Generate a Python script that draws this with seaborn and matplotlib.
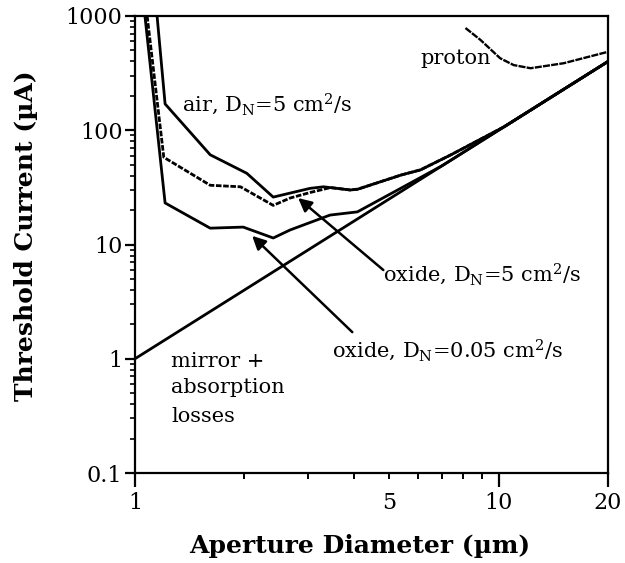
import numpy as np
import pandas as pd
import matplotlib
matplotlib.use("Agg")
import matplotlib.pyplot as plt
from matplotlib.ticker import NullFormatter, LogLocator
import seaborn as sns

# ---- data ----
mirror_x = [1, 2, 3, 5, 10, 20]
mirror_y = [1, 4, 9, 25, 100, 400]

air_x = [1.15, 1.21, 1.61, 2.03, 2.40, 3.03, 3.30, 3.91, 4.1, 5.4, 6.1, 7.4, 10.4, 20]
air_y = [1000, 170, 61, 42, 26, 31, 32, 30, 30.5, 40.6, 45, 61, 108, 400]

oxide5_x = [1.08, 1.20, 1.61, 1.95, 2.40, 2.67, 3.03, 3.45, 3.91, 4.1, 5.4, 6.1, 7.4, 10.4, 20]
oxide5_y = [1000, 58, 33, 32, 22, 25.5, 28.5, 31.5, 30, 30.5, 40.6, 45, 61, 108, 400]

oxide005_x = [1.065, 1.21, 1.61, 1.985, 2.40, 2.67, 3.44, 4.09, 5.72, 7, 10, 20]
oxide005_y = [1000, 23.1, 13.9, 14.2, 11.4, 13.4, 18.1, 19.3, 34.5, 49, 100, 400]

proton_x = [8.11, 8.92, 10.1, 11.0, 12.25, 15.1, 20]
proton_y = [785, 617, 427, 372, 349, 386, 486]

x_major = [1, 10, 20]
x_major_labels = ["1", "10", "20"]
x_minor = [2, 3, 4, 5, 6, 7, 8, 9]
x_minor_labels = ["", "", "", "5", "", "", "", ""]
y_ticks = [0.1, 1, 10, 100, 1000]
y_tick_labels = ["0.1", "1", "10", "100", "1000"]

sns.set_style("ticks")
plt.rcParams["font.family"] = ["DejaVu Serif"]
plt.rcParams["mathtext.fontset"] = "dejavuserif"
plt.rcParams["text.color"] = "black"
plt.rcParams["axes.labelcolor"] = "black"
plt.rcParams["xtick.color"] = "black"
plt.rcParams["ytick.color"] = "black"

fig = plt.figure(figsize=(6.25, 5.63), dpi=100)
ax = fig.add_axes([135 / 625, 1 - 473 / 563, (608 - 135) / 625, (473 - 16) / 563])

kw = dict(ax=ax, sort=False, estimator=None, color="black")
sns.lineplot(x=mirror_x, y=mirror_y, lw=2.0, **kw)
sns.lineplot(x=oxide005_x, y=oxide005_y, lw=2.0, **kw)
sns.lineplot(x=air_x, y=air_y, lw=2.0, **kw)
sns.lineplot(x=oxide5_x, y=oxide5_y, lw=2.0, linestyle=(0, (2.0, 0.6)), **kw)
sns.lineplot(x=proton_x, y=proton_y, lw=1.7, linestyle=(0, (3.0, 0.5)), **kw)

ax.set_xscale("log")
ax.set_yscale("log")
ax.set_xlim(1, 20)
ax.set_ylim(0.1, 1000)

ax.set_xticks(x_major)
ax.set_xticklabels(x_major_labels)
ax.set_xticks(x_minor, minor=True)
ax.set_xticklabels(x_minor_labels, minor=True)
ax.set_yticks(y_ticks)
ax.set_yticklabels(y_tick_labels)
ax.yaxis.set_minor_locator(LogLocator(base=10, subs=np.arange(2, 10)))
ax.yaxis.set_minor_formatter(NullFormatter())

ax.tick_params(axis="x", which="major", direction="out", length=10, width=1.6, pad=4, labelsize=16)
ax.tick_params(axis="x", which="minor", direction="out", length=4, width=1.4, pad=10, labelsize=16)
ax.tick_params(axis="y", which="major", direction="out", length=7, width=1.6, pad=2, labelsize=16)
ax.tick_params(axis="y", which="minor", direction="out", length=3.5, width=1.2)

for s in ax.spines.values():
    s.set_linewidth(1.6)
    s.set_color("black")

ax.set_xlabel("Aperture Diameter (µm)", fontsize=18, fontweight="bold")
ax.set_ylabel("Threshold Current (µA)", fontsize=18, fontweight="bold")
ax.xaxis.set_label_coords(0.476, -0.133)
ax.yaxis.set_label_coords(-0.205, 0.519)

tfs = 15
ax.text(6.10, 380, "proton", fontsize=tfs, va="baseline", ha="left")
ax.text(1.348, 147, r"air, D$_{\rm N}$=5 cm$^{2}$/s", fontsize=tfs, va="baseline", ha="left")
ax.text(4.82, 4.79, r"oxide, D$_{\rm N}$=5 cm$^{2}$/s", fontsize=tfs, va="baseline", ha="left")
ax.text(3.49, 1.036, r"oxide, D$_{\rm N}$=0.05 cm$^{2}$/s", fontsize=tfs, va="baseline", ha="left")
ax.text(1.256, 0.847, "mirror +", fontsize=tfs, va="baseline", ha="left")
ax.text(1.256, 0.501, "absorption", fontsize=tfs, va="baseline", ha="left")
ax.text(1.256, 0.279, "losses", fontsize=tfs, va="baseline", ha="left")

ap = dict(arrowstyle="-|>", lw=1.8, color="black", mutation_scale=20, shrinkA=0, shrinkB=0)
ax.annotate("", xy=(2.81, 25.5), xytext=(4.82, 5.98), arrowprops=ap)
ax.annotate("", xy=(2.10, 11.9), xytext=(3.96, 1.71), arrowprops=ap)

fig.savefig("out.png", dpi=100)
